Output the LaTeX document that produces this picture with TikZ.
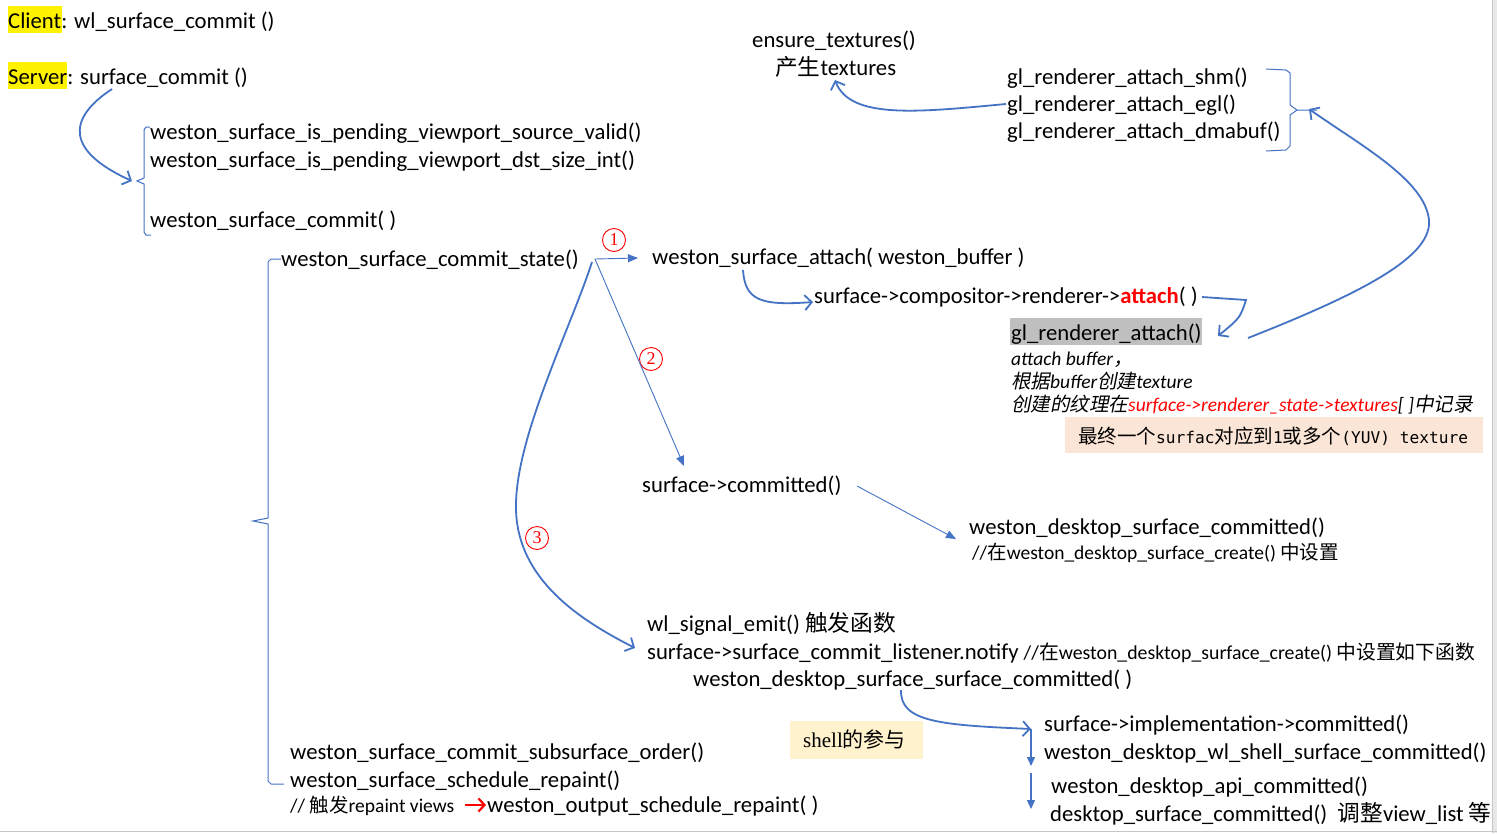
\documentclass[tikz,border=0pt]{standalone}
\usepackage{fontspec}
\setmainfont{Carlito}
\newfontfamily\cjkf{Noto Sans CJK SC}
\newfontfamily\cjkit[FakeSlant=0.2]{Noto Sans CJK SC}
\newfontfamily\serf{Liberation Serif}
\newfontfamily\monof[Scale=0.83]{DejaVu Sans Mono}
\usetikzlibrary{arrows.meta}
\definecolor{lnblue}{HTML}{4472C4}
\definecolor{peach}{HTML}{FBE5D6}
\definecolor{cream}{HTML}{FFF2CC}
\definecolor{hlgray}{HTML}{BFBFBF}
\newcommand\fmain{\fontsize{22.7}{27}\selectfont}
\newcommand\fsmall{\fontsize{19.5}{23}\selectfont}
\tikzset{
 txt/.style={anchor=base west, inner sep=0pt, font=\fmain},
 stxt/.style={anchor=base west, inner sep=0pt, font=\fsmall},
 itxt/.style={anchor=base west, inner sep=0pt, font=\fsmall\itshape},
 curvearrow/.style={draw=lnblue, line width=1.8pt, -{Straight Barb[length=7pt,width=15pt]}},
 thinarrow/.style={draw=lnblue, line width=0.9pt, -{Triangle[length=10pt,width=8pt]}},
 vertarrow/.style={draw=lnblue, line width=1.2pt, -{Triangle[length=9pt,width=8pt]}},
 bracel/.style={draw=lnblue, line width=1pt},
 circnum/.style={circle, draw=red, text=red, line width=0.9pt, minimum size=23pt, inner sep=0pt, font=\serf\fontsize{18}{18}\selectfont},
}
\begin{document}
\begin{tikzpicture}[x=1pt,y=-1pt]
\useasboundingbox (0,0) rectangle (1497,833);
\fill[white] (0,0) rectangle (1497,833);
% screenshot borders
\fill[gray!18] (1492,0) rectangle (1497,833);
\draw[gray!45, line width=0.8pt] (1492.5,0) -- (1492.5,833);
\draw[gray!45, line width=1pt] (0,831.5) -- (1497,831.5);

% highlights and boxes
\fill[yellow] (8,6) rectangle (62,33);
\fill[yellow] (8,62) rectangle (67,89);
\fill[hlgray] (1010,318) rectangle (1202,345);
\fill[peach] (1065,417) rectangle (1483,453);
\fill[cream] (790,721) rectangle (923,759);

% texts
\node[txt] (client) at (8,28) {Client: wl\_surface\_commit ()};
\node[txt] (server) at (8,84) {Server: surface\_commit ()};
\node[txt] (v1) at (150,139) {weston\_surface\_is\_pending\_viewport\_source\_valid()};
\node[txt] (v2) at (150,167) {weston\_surface\_is\_pending\_viewport\_dst\_size\_int()};
\node[txt] (wsc) at (150,227) {weston\_surface\_commit( )};
\node[txt] (state) at (281,266) {weston\_surface\_commit\_state()};
\node[txt] (attach) at (652,264) {weston\_surface\_attach( weston\_buffer )};
\node[txt] (comp) at (814,303) {surface->compositor->renderer->{\bfseries\color{red}attach}( )};
\node[txt] (glra) at (1011,340) {gl\_renderer\_attach()};
\node[itxt] (it1) at (1011,365) {attach buffer{\cjkit ，}};
\node[itxt] (it2) at (1011,388) {{\cjkit 根据}buffer{\cjkit 创建}texture};
\node[itxt] (it3) at (1011,411) {{\cjkit 创建的纹理在}{\color{red}surface->renderer\_state->textures}[ ]{\cjkit 中记录}};
\node[stxt] (note) at (1078,443) {{\cjkf 最终一个}{\monof surfac}{\cjkf 对应到}{\monof 1}{\cjkf 或多个}{\monof (YUV) texture}};
\node[txt] (ensure) at (752,47) {ensure\_textures()};
\node[txt] (tex) at (775,75) {{\cjkf 产生}textures};
\node[txt] (shm) at (1007,84) {gl\_renderer\_attach\_shm()};
\node[txt] (egl) at (1007,111) {gl\_renderer\_attach\_egl()};
\node[txt] (dma) at (1007,138) {gl\_renderer\_attach\_dmabuf()};
\node[txt] (committed) at (642,492) {surface->committed()};
\node[txt] (wdsc) at (969,534) {weston\_desktop\_surface\_committed()};
\node[stxt] (wdsc2) at (972,559) {//{\cjkf 在}weston\_desktop\_surface\_create() {\cjkf 中设置}};
\node[txt] (emit) at (647,631) {wl\_signal\_emit() {\cjkf 触发函数}};
\node[txt] (notify) at (647,659) {surface->surface\_commit\_listener.notify {\fontsize{19.8}{24}\selectfont //{\cjkf 在}weston\_desktop\_surface\_create() {\cjkf 中设置如下函数}}};
\node[txt] (wdssc) at (693,686) {weston\_desktop\_surface\_surface\_committed( )};
\node[txt] (impl) at (1044,731) {surface->implementation->committed()};
\node[txt] (wlsh) at (1044,759) {weston\_desktop\_wl\_shell\_surface\_committed()};
\node[txt] (api) at (1051,793) {weston\_desktop\_api\_committed()};
\node[txt] (dsc) at (1050,821) {desktop\_surface\_committed()\ \ {\cjkf 调整}view\_list {\cjkf 等}};
\node[anchor=base west, inner sep=0pt, font=\fontsize{21}{24}\selectfont] (shell) at (803,747) {{\serf shell}{\cjkf 的参与}};
\node[txt] (sub) at (290,759) {weston\_surface\_commit\_subsurface\_order()};
\node[txt] (rep) at (290,787) {weston\_surface\_schedule\_repaint()};
\node[stxt] (trig) at (290,812) {// {\cjkf 触发}repaint views};
\node[txt] (out) at (487,812) {weston\_output\_schedule\_repaint( )};

% circled numbers
\node[circnum] (c1) at (614,240) {1};
\node[circnum] (c2) at (651,359) {2};
\node[circnum] (c3) at (537,538) {3};

% braces
\draw[bracel] (150,127) -- (146,127) -- (144,130) -- (144,178) -- (137,181) -- (144,184) -- (144,232) -- (146,235) -- (151,235);
\draw[bracel] (281,259) -- (271,259) -- (268,262) -- (268,518) -- (253,521) -- (268,524) -- (268,781) -- (271,784) -- (284,784);
\draw[bracel] (1266,69) -- (1286,70) -- (1290,73) -- (1290,105) -- (1297,110) -- (1317,110);
\draw[bracel] (1297,110) -- (1290,115) -- (1290,146) -- (1286,150) -- (1266,151);

% connector coordinates
\coordinate (sA) at (112,89);
\coordinate (eA) at (132,181);
\coordinate (p0) at (595,259);
\coordinate (p3) at (592,262);
\coordinate (e1) at (638,258);
\coordinate (e2) at (684,466);
\coordinate (e3) at (635,648);
\coordinate (sB) at (743,270);
\coordinate (eB) at (813,302);
\coordinate (sC) at (1202,297);
\coordinate (mC) at (1246,300);
\coordinate (eC) at (1218,336);
\coordinate (sD) at (1248,338);
\coordinate (eD) at (1309,109);
\coordinate (sE) at (1006,104);
\coordinate (eE) at (835,80);
\coordinate (sF) at (857,486);
\coordinate (eF) at (956,539);
\coordinate (sG) at (901,690);
\coordinate (eG) at (1031,729);
\coordinate (eH) at (1031,766);
\coordinate (sI) at (1031,773);
\coordinate (eI) at (1031,809);
\coordinate (sR) at (465,805);
\coordinate (eR) at (486,805);

% connectors
\draw[curvearrow] (sA) .. controls (65,120) and (68,152) .. (eA);
\draw[thinarrow] (p0) -- (e1);
\draw[thinarrow] (p0) -- (e2);
\draw[curvearrow] (p3) .. controls (570,330) and (514,440) .. (516,510) .. controls (518,580) and (580,620) .. (e3);
\draw[curvearrow] (sB) .. controls (745,300) and (760,306) .. (eB);
\draw[curvearrow] (sC) -- (mC) .. controls (1240,318) .. (eC);
\draw[curvearrow] (sD) .. controls (1370,290) and (1432,255) .. (1429,220) .. controls (1425,180) and (1360,145) .. (eD);
\draw[curvearrow] (sE) .. controls (920,112) and (850,120) .. (eE);
\draw[thinarrow] (sF) -- (eF);
\draw[curvearrow] (sG) .. controls (900,722) and (940,725) .. (eG);
\draw[vertarrow] (eG) -- (eH);
\draw[vertarrow] (sI) -- (eI);
\draw[red, line width=2.2pt, -{Straight Barb[length=6pt,width=13pt]}] (sR) -- (eR);
\end{tikzpicture}
\end{document}
